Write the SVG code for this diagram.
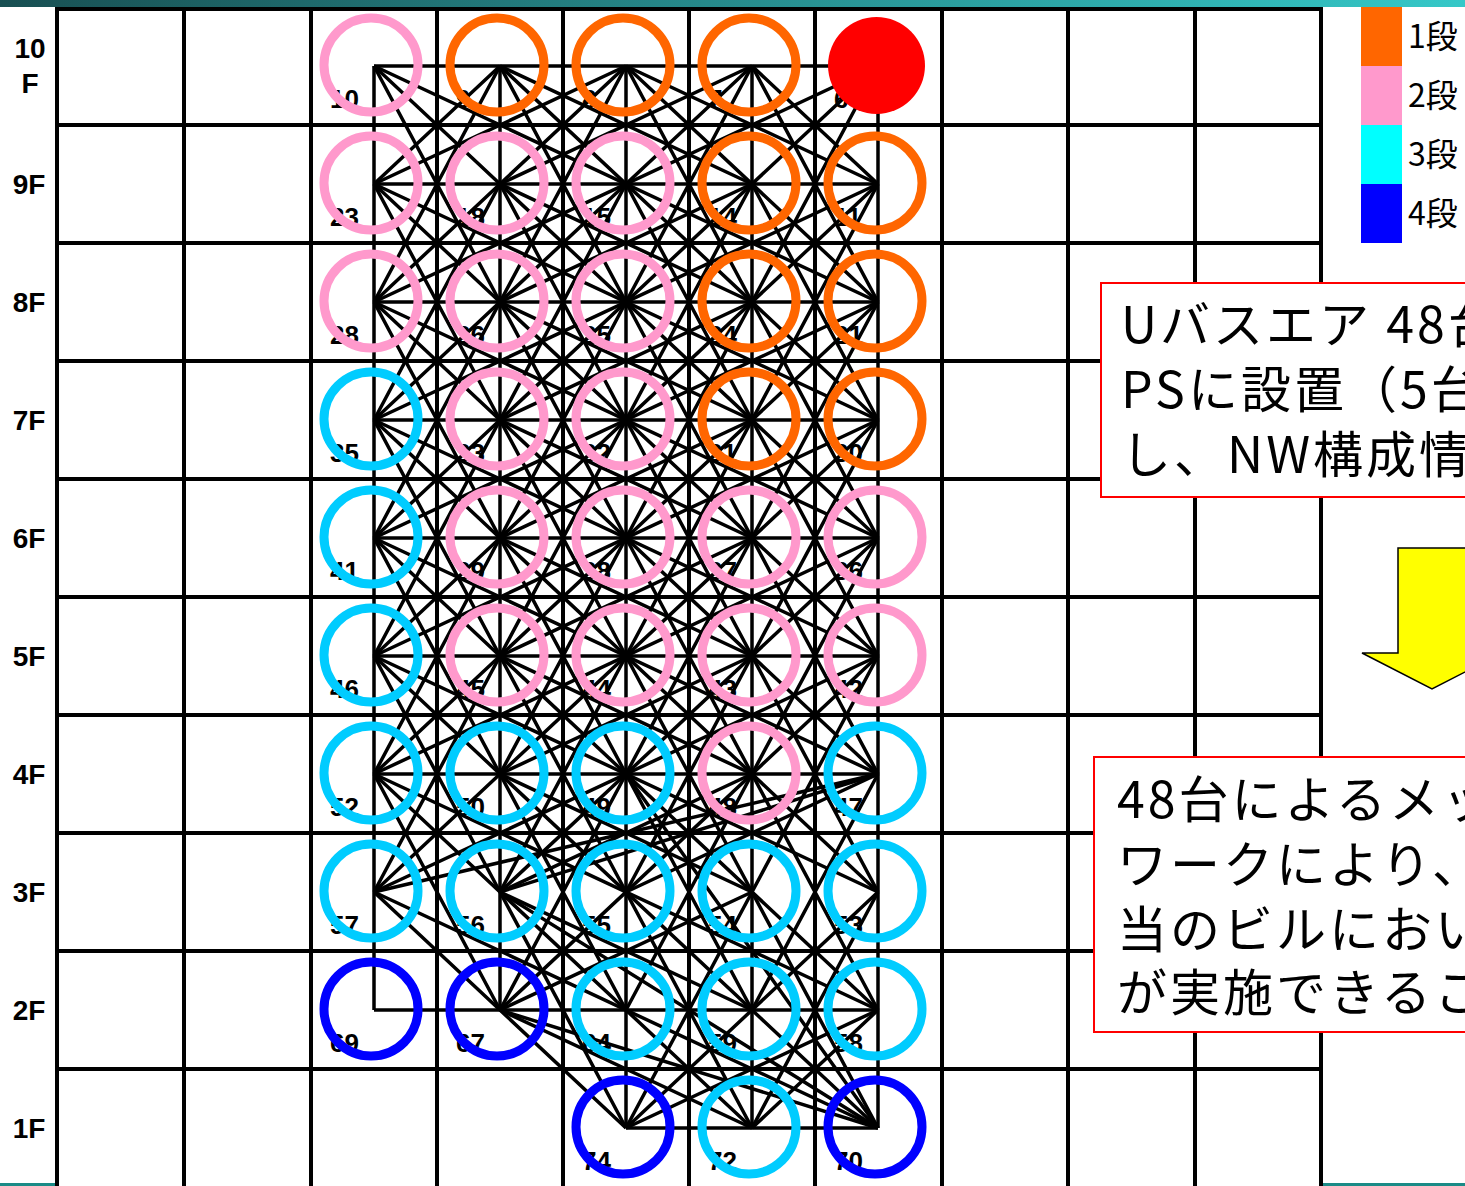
<svg xmlns="http://www.w3.org/2000/svg" width="1465" height="1186" viewBox="0 0 1465 1186">
<defs>
<linearGradient id="bar" x1="0" y1="0" x2="1" y2="0">
<stop offset="0" stop-color="#184f52"/>
<stop offset="1" stop-color="#35c8c8"/>
</linearGradient>
<style>
.grid{stroke:#000;stroke-width:4;fill:none}
.mesh{stroke:#000;stroke-width:3.5;fill:none;stroke-linejoin:round}
.fl{font-family:"Liberation Sans",Arial,sans-serif;font-weight:bold;font-size:28px;fill:#000;text-anchor:middle}
.lb{font-family:"Liberation Sans",Arial,sans-serif;font-weight:bold;font-size:26px;fill:#000}
.ring{fill:none;stroke-width:9}
.o{stroke:#ff6600}.p{stroke:#ff99cc}.c{stroke:#00ccff}.b{stroke:#0000ff}
.lg{font-family:"Noto Sans CJK JP","Noto Sans",sans-serif;font-size:32px;fill:#000}
.bx{fill:#fff;stroke:#ff0000;stroke-width:2}
.jt{font-family:"Noto Sans CJK JP","Noto Sans",sans-serif;font-size:50px;fill:#000;letter-spacing:3px}
</style>
</defs>
<rect width="1465" height="1186" fill="#fff"/>
<rect x="0" y="0" width="1465" height="7" fill="url(#bar)"/>
<rect x="0" y="1183" width="57" height="3" fill="#1a8a86"/>
<rect x="1321" y="1183" width="144" height="3" fill="#1a8a86"/>
<g id="grid" class="grid">
<path d="M57 7V1186M184 7V1186M311 7V1186M437 7V1186M563 7V1186M689 7V1186M815 7V1186M942 7V1186M1068 7V1186M1195 7V1186M1321 7V1186"/>
<path d="M55 9H1323M55 125H1323M55 243H1323M55 361H1323M55 479H1323M55 597H1323M55 715H1323M55 833H1323M55 951H1323M55 1069H1323"/>
</g>
<g id="floors">
<text class="fl" x="30" y="58">10</text><text class="fl" x="30" y="93">F</text>
<text class="fl" x="29" y="194">9F</text>
<text class="fl" x="29" y="312">8F</text>
<text class="fl" x="29" y="430">7F</text>
<text class="fl" x="29" y="548">6F</text>
<text class="fl" x="29" y="666">5F</text>
<text class="fl" x="29" y="784">4F</text>
<text class="fl" x="29" y="902">3F</text>
<text class="fl" x="29" y="1020">2F</text>
<text class="fl" x="29" y="1138">1F</text>
</g>
<g id="legend">
<rect x="1361" y="7" width="41" height="59" fill="#ff6600"/>
<rect x="1361" y="66" width="41" height="59" fill="#ff99cc"/>
<rect x="1361" y="125" width="41" height="59" fill="#00ffff"/>
<rect x="1361" y="184" width="41" height="59" fill="#0000ff"/>
<text class="lg" x="1408" y="48">1段</text>
<text class="lg" x="1408" y="107">2段</text>
<text class="lg" x="1408" y="166">3段</text>
<text class="lg" x="1408" y="225">4段</text>
</g>
<g id="connectors" class="mesh">
<path d="M374 66H878M374 184H878M374 302H878M374 420H878M374 538H878M374 656H878M374 774H878M374 1010H878M626 1128H878"/>
<path d="M374 66V1010M500 66V1010M626 66V1128M752 66V1128M878 66V1128"/>
<path d="M374 66L878 538M500 66L878 420M626 66L878 302M752 66L878 184M374 184L878 656M374 302L878 774M374 420L878 892M374 538L878 1010M374 656L878 1128M374 774L752 1128M374 892L626 1128"/>
<path d="M374 184L500 66M374 302L626 66M374 420L752 66M374 538L878 66M374 656L878 184M374 774L878 302M374 892L878 420M500 892L878 538M500 1010L878 656M626 1128L878 892M752 1128L878 1010"/>
<path d="M374 66L878 302M374 184L878 420M374 302L878 538M374 420L878 656M374 538L878 774M374 656L878 892M374 774L878 1010M374 892L878 1128M626 66L878 184M500 66L752 184M500 184L752 302M500 302L752 420M500 420L752 538M500 538L752 656M500 656L752 774M500 774L752 892M500 892L752 1010M500 1010L752 1128"/>
<path d="M374 302L878 66M374 420L878 184M374 538L878 302M374 656L878 420M374 774L878 538M374 892L878 656M626 892L878 774M374 184L626 66M626 1128L878 1010M500 184L752 66M500 302L752 184M500 420L752 302M500 538L752 420M500 656L752 538M500 774L752 656M500 892L752 774M500 1010L752 892"/>
<path d="M374 66l126 236M500 66l126 236M626 66l126 236M752 66l126 236M374 184l126 236M500 184l126 236M626 184l126 236M752 184l126 236M374 302l126 236M500 302l126 236M626 302l126 236M752 302l126 236M374 420l126 236M500 420l126 236M626 420l126 236M752 420l126 236M374 538l126 236M500 538l126 236M626 538l126 236M752 538l126 236M374 656l126 236M500 656l126 236M626 656l126 236M752 656l126 236M374 774l126 236M500 774l126 236M626 774l126 236M752 774l126 236M500 892l126 236M626 892l126 236M752 892l126 236"/>
<path d="M374 302l126 -236M500 302l126 -236M626 302l126 -236M752 302l126 -236M374 420l126 -236M500 420l126 -236M626 420l126 -236M752 420l126 -236M374 538l126 -236M500 538l126 -236M626 538l126 -236M752 538l126 -236M374 656l126 -236M500 656l126 -236M626 656l126 -236M752 656l126 -236M374 774l126 -236M500 774l126 -236M626 774l126 -236M752 774l126 -236M374 892l126 -236M500 892l126 -236M626 892l126 -236M752 892l126 -236M500 1010l126 -236M626 1010l126 -236M752 1010l126 -236M626 1128l126 -236M752 1128l126 -236"/>
<path d="M374 892L878 774M500 892L878 774M500 1010L878 1128M626 774L878 1128M500 892L878 1128"/>
</g>
<g id="n10"><text class="lb" x="330" y="108">10</text><circle class="ring p" cx="371" cy="65" r="47"/></g>
<g id="n9"><text class="lb" x="456" y="108">9</text><circle class="ring o" cx="497" cy="65" r="47"/></g>
<g id="n8"><text class="lb" x="582" y="108">8</text><circle class="ring o" cx="623" cy="65" r="47"/></g>
<g id="n7"><text class="lb" x="708" y="108">7</text><circle class="ring o" cx="749" cy="65" r="47"/></g>
<g id="n6"><text class="lb" x="834" y="108">6</text><circle cx="876.5" cy="65.5" r="48.5" fill="#ff0000"/></g>
<g id="n23"><text class="lb" x="330" y="226">23</text><circle class="ring p" cx="371" cy="183" r="47"/></g>
<g id="n18"><text class="lb" x="456" y="226">18</text><circle class="ring p" cx="497" cy="183" r="47"/></g>
<g id="n15"><text class="lb" x="582" y="226">15</text><circle class="ring p" cx="623" cy="183" r="47"/></g>
<g id="n14"><text class="lb" x="708" y="226">14</text><circle class="ring o" cx="749" cy="183" r="47"/></g>
<g id="n11"><text class="lb" x="834" y="226">11</text><circle class="ring o" cx="875" cy="183" r="47"/></g>
<g id="n28"><text class="lb" x="330" y="344">28</text><circle class="ring p" cx="371" cy="301" r="47"/></g>
<g id="n26"><text class="lb" x="456" y="344">26</text><circle class="ring p" cx="497" cy="301" r="47"/></g>
<g id="n25"><text class="lb" x="582" y="344">25</text><circle class="ring p" cx="623" cy="301" r="47"/></g>
<g id="n24"><text class="lb" x="708" y="344">24</text><circle class="ring o" cx="749" cy="301" r="47"/></g>
<g id="n21"><text class="lb" x="834" y="344">21</text><circle class="ring o" cx="875" cy="301" r="47"/></g>
<g id="n35"><text class="lb" x="330" y="462">35</text><circle class="ring c" cx="371" cy="419" r="47"/></g>
<g id="n33"><text class="lb" x="456" y="462">33</text><circle class="ring p" cx="497" cy="419" r="47"/></g>
<g id="n32"><text class="lb" x="582" y="462">32</text><circle class="ring p" cx="623" cy="419" r="47"/></g>
<g id="n31"><text class="lb" x="708" y="462">31</text><circle class="ring o" cx="749" cy="419" r="47"/></g>
<g id="n30"><text class="lb" x="834" y="462">30</text><circle class="ring o" cx="875" cy="419" r="47"/></g>
<g id="n41"><text class="lb" x="330" y="580">41</text><circle class="ring c" cx="371" cy="537" r="47"/></g>
<g id="n39"><text class="lb" x="456" y="580">39</text><circle class="ring p" cx="497" cy="537" r="47"/></g>
<g id="n38"><text class="lb" x="582" y="580">38</text><circle class="ring p" cx="623" cy="537" r="47"/></g>
<g id="n37"><text class="lb" x="708" y="580">37</text><circle class="ring p" cx="749" cy="537" r="47"/></g>
<g id="n36"><text class="lb" x="834" y="580">36</text><circle class="ring p" cx="875" cy="537" r="47"/></g>
<g id="n46"><text class="lb" x="330" y="698">46</text><circle class="ring c" cx="371" cy="655" r="47"/></g>
<g id="n45"><text class="lb" x="456" y="698">45</text><circle class="ring p" cx="497" cy="655" r="47"/></g>
<g id="n44"><text class="lb" x="582" y="698">44</text><circle class="ring p" cx="623" cy="655" r="47"/></g>
<g id="n43"><text class="lb" x="708" y="698">43</text><circle class="ring p" cx="749" cy="655" r="47"/></g>
<g id="n42"><text class="lb" x="834" y="698">42</text><circle class="ring p" cx="875" cy="655" r="47"/></g>
<g id="n52"><text class="lb" x="330" y="816">52</text><circle class="ring c" cx="371" cy="773" r="47"/></g>
<g id="n50"><text class="lb" x="456" y="816">50</text><circle class="ring c" cx="497" cy="773" r="47"/></g>
<g id="n49"><text class="lb" x="582" y="816">49</text><circle class="ring c" cx="623" cy="773" r="47"/></g>
<g id="n48"><text class="lb" x="708" y="816">48</text><circle class="ring p" cx="749" cy="773" r="47"/></g>
<g id="n47"><text class="lb" x="834" y="816">47</text><circle class="ring c" cx="875" cy="773" r="47"/></g>
<g id="n57"><text class="lb" x="330" y="934">57</text><circle class="ring c" cx="371" cy="891" r="47"/></g>
<g id="n56"><text class="lb" x="456" y="934">56</text><circle class="ring c" cx="497" cy="891" r="47"/></g>
<g id="n55"><text class="lb" x="582" y="934">55</text><circle class="ring c" cx="623" cy="891" r="47"/></g>
<g id="n54"><text class="lb" x="708" y="934">54</text><circle class="ring c" cx="749" cy="891" r="47"/></g>
<g id="n53"><text class="lb" x="834" y="934">53</text><circle class="ring c" cx="875" cy="891" r="47"/></g>
<g id="n69"><text class="lb" x="330" y="1052">69</text><circle class="ring b" cx="371" cy="1009" r="47"/></g>
<g id="n67"><text class="lb" x="456" y="1052">67</text><circle class="ring b" cx="497" cy="1009" r="47"/></g>
<g id="n64"><text class="lb" x="582" y="1052">64</text><circle class="ring c" cx="623" cy="1009" r="47"/></g>
<g id="n59"><text class="lb" x="708" y="1052">59</text><circle class="ring c" cx="749" cy="1009" r="47"/></g>
<g id="n58"><text class="lb" x="834" y="1052">58</text><circle class="ring c" cx="875" cy="1009" r="47"/></g>
<g id="n74"><text class="lb" x="582" y="1170">74</text><circle class="ring b" cx="623" cy="1127" r="47"/></g>
<g id="n72"><text class="lb" x="708" y="1170">72</text><circle class="ring c" cx="749" cy="1127" r="47"/></g>
<g id="n70"><text class="lb" x="834" y="1170">70</text><circle class="ring b" cx="875" cy="1127" r="47"/></g>
<g id="box1">
<rect class="bx" x="1101" y="283" width="400" height="214"/>
<text class="jt" x="1121" y="343">Uバスエア 48台</text>
<text class="jt" x="1121" y="408">PSに設置（5台</text>
<text class="jt" x="1121" y="473">し、NW構成情</text>
</g>
<g id="arrow">
<polygon points="1398,548 1398,653 1362,653 1432,689 1502,653 1466,653 1466,548" fill="#ffff00" stroke="#000" stroke-width="1.5"/>
</g>
<g id="box2">
<rect class="bx" x="1094" y="757" width="400" height="275"/>
<text class="jt" x="1117" y="818">48台によるメッ</text>
<text class="jt" x="1117" y="883">ワークにより、</text>
<text class="jt" x="1117" y="948">当のビルにおい</text>
<text class="jt" x="1117" y="1011">が実施できるこ</text>
</g>
</svg>
